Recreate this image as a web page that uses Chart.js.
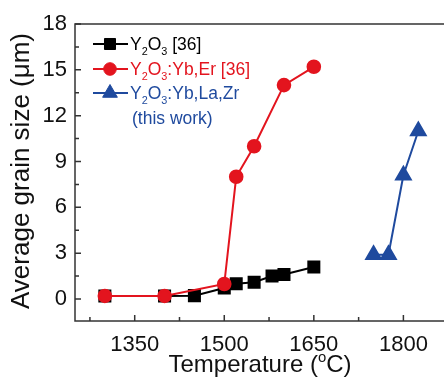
<!DOCTYPE html>
<html>
<head>
<meta charset="utf-8">
<script src="https://cdn.jsdelivr.net/npm/chart.js@4/dist/chart.umd.min.js"></script>
<style>
  html, body { margin: 0; padding: 0; background: #fff; overflow: hidden; }
  #wrap { width: 444px; height: 377px; position: relative; }
</style>
</head>
<body>
<div id="wrap"><canvas id="grainChart" width="444" height="377"></canvas></div>
<script>
// data (temperature in °C, grain size in µm)
const y2o3Temp = [1300, 1400, 1450, 1500, 1520, 1550, 1580, 1600, 1650];
const y2o3Size = [0.2, 0.2, 0.22, 0.72, 1.0, 1.1, 1.5, 1.6, 2.1];
const ybErTemp = [1300, 1400, 1500, 1520, 1550, 1600, 1650];
const ybErSize = [0.2, 0.2, 0.98, 8.0, 10.0, 14.0, 15.2];
const ybLaZrTemp = [1750, 1775, 1800, 1825];
const ybLaZrSize = [2.9, 2.9, 8.1, 11.0];

const xMajorTicks = [1350, 1500, 1650, 1800];
const xMinorTicks = [1275, 1425, 1575, 1725];
const yMajorTicks = [0, 3, 6, 9, 12, 15, 18];
const yMinorTicks = [1.5, 4.5, 7.5, 10.5, 13.5, 16.5];

const FONT = "'Liberation Sans', Arial, sans-serif";
const BLACK = "#000000";
const RED = "#e3141e";
const BLUE = "#1f4a9e";
const AXIS = "#333333";

function toPoints(xs, ys) {
    return xs.map((x, i) => ({ x: x, y: ys[i] }));
}

// legend entries: text parts with sub/sup flags
const legendRows = [
    { ds: 0, color: BLACK, parts: [["Y"], ["2", "sub"], ["O"], ["3", "sub"], [" [36]"]] },
    { ds: 1, color: RED, parts: [["Y"], ["2", "sub"], ["O"], ["3", "sub"], [":Yb,Er [36]"]] },
    { ds: 2, color: BLUE, parts: [["Y"], ["2", "sub"], ["O"], ["3", "sub"], [":Yb,La,Zr"]] },
    { ds: null, color: BLUE, parts: [["(this work)"]] }
];

// draw text with small sub/superscript pieces
function drawRich(ctx, parts, x, y, size, color) {
    ctx.save();
    ctx.fillStyle = color;
    ctx.textBaseline = "alphabetic";
    ctx.textAlign = "left";
    let cx = x;
    parts.forEach(p => {
        const kind = p[1];
        let fs = size, dy = 0;
        if (kind === "sub") { fs = size * 0.62; dy = size * 0.28; }
        if (kind === "sup") { fs = size * 0.62; dy = -size * 0.42; }
        ctx.font = fs + "px " + FONT;
        ctx.fillText(p[0], cx, y + dy);
        cx += ctx.measureText(p[0]).width;
    });
    ctx.restore();
    return cx - x;
}

function richWidth(ctx, parts, size) {
    let w = 0;
    parts.forEach(p => {
        const fs = p[1] ? size * 0.62 : size;
        ctx.font = fs + "px " + FONT;
        w += ctx.measureText(p[0]).width;
    });
    return w;
}

// frame, inward ticks, axis titles and legend
const decorPlugin = {
    id: "decor",
    afterDraw(chart) {
        const ctx = chart.ctx;
        const a = chart.chartArea;
        const xs = chart.scales.x, ys = chart.scales.y;
        ctx.save();
        ctx.strokeStyle = AXIS;
        ctx.lineWidth = 1.5;
        ctx.strokeRect(a.left, a.top, a.right - a.left + 2, a.bottom - a.top);
        ctx.beginPath();
        xMajorTicks.forEach(v => { const px = xs.getPixelForValue(v); ctx.moveTo(px, a.bottom); ctx.lineTo(px, a.bottom - 6); });
        xMinorTicks.forEach(v => { const px = xs.getPixelForValue(v); ctx.moveTo(px, a.bottom); ctx.lineTo(px, a.bottom - 4); });
        yMajorTicks.forEach(v => { const py = ys.getPixelForValue(v); ctx.moveTo(a.left, py); ctx.lineTo(a.left + 6, py); });
        yMinorTicks.forEach(v => { const py = ys.getPixelForValue(v); ctx.moveTo(a.left, py); ctx.lineTo(a.left + 4, py); });
        ctx.stroke();
        ctx.restore();

        // x title with superscript o
        const xt = [["Temperature ("], ["o", "sup"], ["C)"]];
        const xw = richWidth(ctx, xt, 24);
        drawRich(ctx, xt, 260 - xw / 2, 372, 24, "#111");

        // y title
        ctx.save();
        ctx.translate(29, 171);
        ctx.rotate(-Math.PI / 2);
        ctx.font = "26px " + FONT;
        ctx.fillStyle = "#111";
        ctx.textAlign = "center";
        ctx.textBaseline = "alphabetic";
        ctx.fillText("Average grain size (\u03bcm)", 0, 0);
        ctx.restore();

        // legend
        const rowY = [44, 69, 93, 118];
        legendRows.forEach((row, i) => {
            const y = rowY[i];
            if (row.ds !== null) {
                const ds = chart.data.datasets[row.ds];
                ctx.save();
                ctx.strokeStyle = ds.borderColor;
                ctx.lineWidth = ds.borderWidth;
                ctx.beginPath();
                ctx.moveTo(93, y);
                ctx.lineTo(128, y);
                ctx.stroke();
                ctx.fillStyle = ds.pointBackgroundColor;
                ctx.strokeStyle = ds.pointBorderColor;
                ctx.lineWidth = 1;
                Chart.helpers.drawPoint(ctx, { pointStyle: ds.pointStyle, radius: ds.pointRadius, rotation: 0, borderWidth: 1 }, 110, y);
                ctx.restore();
            }
            drawRich(ctx, row.parts, row.ds === null ? 132 : 130, y + 6, 17.5, row.color);
        });
    }
};

const chart = new Chart("grainChart", {
    type: "scatter",
    data: {
        datasets: [
            {
                label: "Y2O3 [36]",
                data: toPoints(y2o3Temp, y2o3Size),
                showLine: true,
                borderColor: BLACK, borderWidth: 2,
                pointStyle: "rect", pointRadius: 7.8,
                pointBackgroundColor: BLACK, pointBorderColor: BLACK,
                order: 3
            },
            {
                label: "Y2O3:Yb,Er [36]",
                data: toPoints(ybErTemp, ybErSize),
                showLine: true,
                borderColor: RED, borderWidth: 2,
                pointStyle: "circle", pointRadius: 6.3,
                pointBackgroundColor: RED, pointBorderColor: RED,
                order: 2
            },
            {
                label: "Y2O3:Yb,La,Zr (this work)",
                data: toPoints(ybLaZrTemp, ybLaZrSize),
                showLine: true,
                borderColor: BLUE, borderWidth: 2,
                pointStyle: "triangle", pointRadius: 8.5,
                pointBackgroundColor: BLUE, pointBorderColor: BLUE,
                order: 1
            }
        ]
    },
    options: {
        responsive: false,
        animation: false,
        devicePixelRatio: 1,
        layout: { autoPadding: false, padding: { top: 24, left: 0, right: 0, bottom: 0 } },
        plugins: { legend: { display: false }, tooltip: { enabled: false } },
        scales: {
            x: {
                type: "linear",
                min: 1250, max: 1868,
                grid: { display: false, drawTicks: false },
                border: { display: false },
                afterBuildTicks: (scale) => { scale.ticks = xMajorTicks.map(v => ({ value: v })); },
                afterFit: (scale) => { scale.height = 56; scale.paddingLeft = 0; scale.paddingRight = 0; },
                ticks: {
                    padding: 11,
                    color: "#111",
                    font: { family: FONT, size: 22 },
                    maxRotation: 0,
                    callback: (v) => String(v)
                }
            },
            y: {
                type: "linear",
                min: -1.44, max: 18,
                grid: { display: false, drawTicks: false },
                border: { display: false },
                afterBuildTicks: (scale) => { scale.ticks = yMajorTicks.map(v => ({ value: v })); },
                afterFit: (scale) => { scale.width = 75; scale.paddingTop = 0; scale.paddingBottom = 0; },
                ticks: {
                    padding: 8,
                    color: "#111",
                    font: { family: FONT, size: 22 },
                    callback: (v) => String(v)
                }
            }
        }
    },
    plugins: [decorPlugin]
});
</script>
</body>
</html>
